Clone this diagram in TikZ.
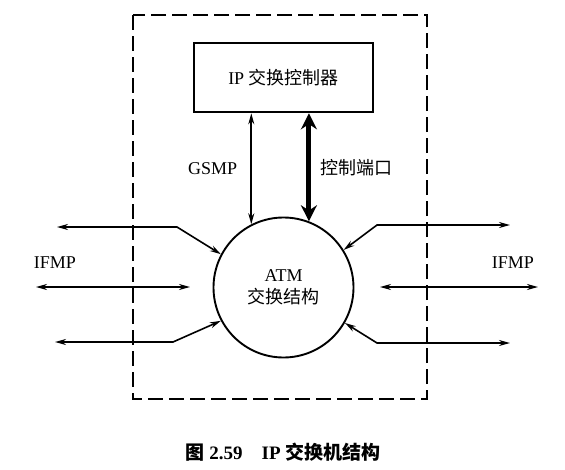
\documentclass[tikz,border=0pt]{standalone}
\usepackage{fontspec}
\setmainfont{Liberation Serif}
\newfontfamily\cjk{Noto Sans CJK SC}
\usetikzlibrary{arrows.meta,positioning}
\tikzset{
    tip/.tip={Stealth[length=11pt,width=6pt]},
    bigtip/.tip={Stealth[length=16pt,width=16pt]},
    frame/.style={dash pattern=on 15pt off 6pt, line width=1.5pt},
    link/.style={tip-tip, line width=1.6pt},
    lbl/.style={font=\fontsize{18}{21}\selectfont},
}

\begin{document}
\begin{tikzpicture}[x=1pt,y=-1pt]
\useasboundingbox (0,0) rectangle (565,469);
\draw[frame] (133,15) rectangle (427,399);
\node[draw, line width=2.6pt, minimum width=179pt, minimum height=69pt, lbl] (ctrl) at (283.5,77.5) {IP {\cjk 交换控制器}};
\node[draw, circle, line width=1.9pt, minimum size=140pt, inner sep=0pt, align=center, lbl] (atm) at (283.5,287.5) {ATM\\[1pt]{\cjk 交换结构}};
\draw[link] (atm.117) -- (atm.117 |- ctrl.south) node[midway, left=10pt, lbl] (gsmp) {GSMP};
\draw[bigtip-bigtip, line width=5pt] (atm.69) -- (atm.69 |- ctrl.south) node[midway, right=6pt, lbl] (port) {\cjk 控制端口};

% left side
\coordinate (l1) at (57,227);
\coordinate (b1) at (177,227);
\coordinate (l2) at (36,287);
\coordinate (m2) at (190,287);
\coordinate (l3) at (55,342);
\coordinate (b3) at (173,342);
\draw[link] (l1) -- (b1) -- (atm.152);
\draw[link] (l2) -- (m2);
\draw[link] (l3) -- (b3) -- (atm.208);
\node[lbl] (ifmpl) at (55,263) {IFMP};

% right side
\coordinate (r1) at (510,225);
\coordinate (c1) at (377,225);
\coordinate (n2) at (380,287);
\coordinate (r2) at (538,287);
\coordinate (r3) at (510,343);
\coordinate (c3) at (377,343);
\draw[link] (atm.32) -- (c1) -- (r1);
\draw[link] (n2) -- (r2);
\draw[link] (atm.-30) -- (c3) -- (r3);
\node[lbl] (ifmpr) at (513,263) {IFMP};

\node[font=\fontsize{19}{22}\selectfont\bfseries] (cap) at (283,452) {{\cjk 图} 2.59\quad IP {\cjk 交换机结构}};
\end{tikzpicture}
\end{document}
